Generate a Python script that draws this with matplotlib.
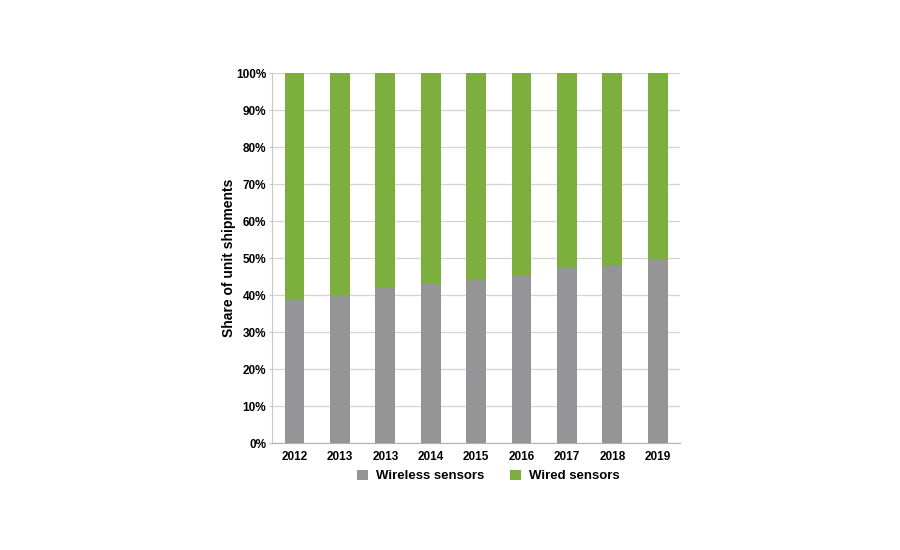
import matplotlib.pyplot as plt
import numpy as np

plt.rcParams['font.family'] = ['Liberation Sans', 'DejaVu Sans']

years = ['2012', '2013', '2013', '2014', '2015', '2016', '2017', '2018', '2019']
wireless = [38.6, 39.7, 42.0, 43.0, 44.1, 45.4, 47.3, 47.9, 49.7]
wired = [100 - w for w in wireless]

gray = '#959597'
green = '#7daf3f'

fig = plt.figure(figsize=(9, 5.5), dpi=100)
ax = fig.add_axes([0.302, 0.1945, 0.454, 0.6725])

x = np.arange(len(years))
ax.bar(x, wireless, width=0.44, color=gray, label='Wireless sensors', zorder=3)
ax.bar(x, wired, width=0.44, bottom=wireless, color=green, label='Wired sensors', zorder=3)

ax.set_xlim(-0.5, len(years) - 0.5)
ax.set_ylim(0, 100)
ax.set_yticks(np.arange(0, 101, 10))
ax.set_yticklabels([f'{v}%' for v in range(0, 101, 10)], fontsize=8.5, fontweight='bold')
ax.set_xticks(x)
ax.set_xticklabels(years, fontsize=8.5, fontweight='bold')
ax.grid(axis='y', color='#d4d4d4', linewidth=0.9, zorder=0)

for s in ['top', 'right']:
    ax.spines[s].set_visible(False)
ax.spines['left'].set_color('#c8c8c8')
ax.spines['bottom'].set_color('#b0b0b0')
ax.tick_params(axis='y', length=2, color='#c8c8c8', pad=2)
ax.tick_params(axis='x', length=0, pad=6)

ax.set_ylabel('Share of unit shipments', fontsize=10, fontweight='bold', labelpad=0)

ax.legend(loc='upper center', bbox_to_anchor=(0.53, -0.04), ncol=2, frameon=False,
          prop={'size': 9.5, 'weight': 'bold'}, handlelength=0.8, handleheight=0.8,
          columnspacing=2.0, handletextpad=0.6)

fig.savefig('out.png')
